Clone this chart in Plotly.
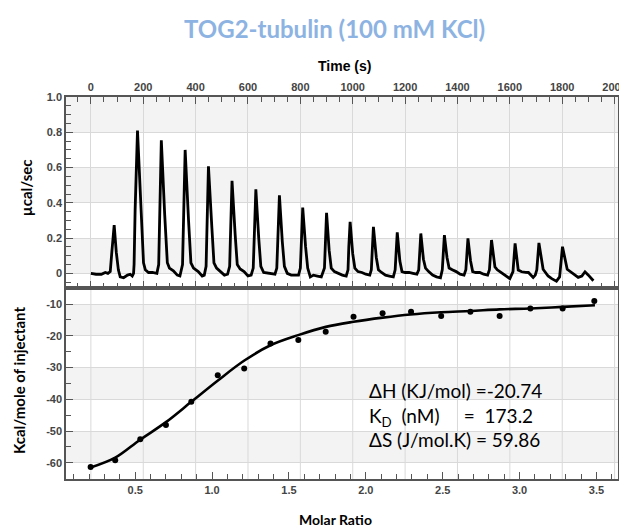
import plotly.graph_objects as go

# ---------------- data ----------------
# Raw thermogram (top panel): time (s) and power (µcal/sec)
time_s = [
    0, 20, 40, 55, 65,
    74, 80, 89, 97, 105, 112, 125, 140, 150, 158,
    163, 165, 169, 178, 191, 201, 208, 220, 235, 252,
    259, 263, 269, 282, 292, 300, 315, 330, 340,
    350, 354, 360, 373, 382, 392, 410, 425, 433,
    440, 444, 449, 462, 470, 480, 495, 510, 522,
    530, 534, 539, 551, 559, 570, 585, 600, 612,
    620, 625, 630, 641, 649, 660, 675, 690, 703,
    710, 715, 720, 731, 739, 750, 765, 780, 793,
    800, 804, 809, 820, 828, 838, 850, 865, 880,
    892, 895, 900, 910, 918, 930, 945, 960, 975,
    982, 985, 990, 1000, 1008, 1020, 1035, 1050, 1065,
    1071, 1074, 1079, 1090, 1098, 1110, 1125, 1140, 1155,
    1162, 1165, 1170, 1180, 1188, 1200, 1215, 1230, 1245,
    1252, 1255, 1260, 1270, 1278, 1290, 1305, 1320, 1335,
    1342, 1345, 1350, 1360, 1368, 1380, 1395, 1410, 1425,
    1432, 1435, 1440, 1450, 1458, 1470, 1485, 1500, 1515,
    1522, 1525, 1530, 1543, 1552, 1562, 1575, 1588, 1600,
    1612, 1615, 1620, 1632, 1645, 1660, 1671, 1689, 1697,
    1703, 1706, 1711, 1727, 1746, 1760, 1778, 1790,
    1794, 1801, 1819, 1836, 1850, 1861, 1875, 1887, 1900, 1919,
]
power_ucal = [
    0.0, -0.005, -0.005, 0.005, 0.0,
    0.01, 0.12, 0.273, 0.12, 0.02, -0.02, -0.025, -0.01, -0.005, -0.015,
    0.0, 0.05, 0.36, 0.81, 0.36, 0.06, 0.02, 0.005, 0.005, 0.0,
    0.05, 0.35, 0.755, 0.33, 0.06, 0.03, 0.015, -0.01, -0.015,
    0.05, 0.33, 0.70, 0.30, 0.06, 0.03, 0.01, -0.015, -0.01,
    0.04, 0.30, 0.607, 0.26, 0.06, 0.03, 0.01, -0.01, -0.005,
    0.04, 0.26, 0.525, 0.22, 0.05, 0.025, 0.01, -0.015, -0.01,
    0.03, 0.23, 0.476, 0.20, 0.04, 0.005, 0.0, -0.005, -0.005,
    0.03, 0.22, 0.443, 0.18, 0.04, 0.0, -0.01, -0.01, -0.01,
    0.03, 0.18, 0.373, 0.15, 0.03, -0.02, -0.01, -0.015, -0.02,
    0.03, 0.17, 0.343, 0.13, 0.03, 0.01, 0.0, -0.01, -0.015,
    0.02, 0.15, 0.292, 0.11, 0.03, 0.01, 0.005, -0.005, -0.01,
    0.02, 0.13, 0.264, 0.09, 0.02, 0.005, -0.01, -0.015, -0.02,
    0.02, 0.12, 0.232, 0.07, 0.01, 0.005, 0.005, 0.0, -0.005,
    0.02, 0.11, 0.226, 0.08, 0.03, 0.01, -0.01, -0.02, -0.025,
    0.02, 0.11, 0.217, 0.09, 0.03, 0.02, 0.01, -0.005, -0.01,
    0.02, 0.10, 0.198, 0.07, 0.01, 0.005, 0.005, -0.005, -0.01,
    0.02, 0.10, 0.189, 0.037, 0.02, 0.01, -0.005, -0.02, -0.03,
    0.01, 0.09, 0.170, 0.019, 0.009, 0.006, 0.005, -0.023, -0.01,
    0.02, 0.09, 0.173, 0.023, -0.015, -0.03, -0.044, -0.02,
    0.05, 0.151, 0.023, 0.003, -0.01, -0.023, -0.015, 0.009, -0.01, -0.042,
]

# Integrated heats (bottom panel)
molar_ratio = [0.21, 0.37, 0.533, 0.70, 0.865, 1.037, 1.209, 1.38, 1.561, 1.739,
               1.92, 2.109, 2.294, 2.49, 2.68, 2.87, 3.07, 3.28, 3.486]
heat_kcal = [-61.3, -59.2, -52.6, -48.1, -40.8, -32.4, -30.3, -22.4, -21.3, -18.7,
             -14.0, -12.9, -12.4, -13.8, -12.4, -13.8, -11.4, -11.4, -9.05]

# Fitted curve
fit_ratio = [0.21, 0.37, 0.53, 0.70, 0.865, 1.04, 1.21, 1.38, 1.56, 1.74,
             1.92, 2.11, 2.29, 2.49, 2.68, 2.87, 3.07, 3.28, 3.49]
fit_kcal = [-61.5, -58.4, -52.8, -47.2, -40.8, -34.0, -27.8, -23.0, -19.8, -17.2,
            -15.6, -14.3, -13.3, -12.6, -12.2, -11.7, -11.4, -10.9, -10.4]

# Tick labels
time_ticks = [0, 200, 400, 600, 800, 1000, 1200, 1400, 1600, 1800, 2000]
power_ticks = [0, 0.2, 0.4, 0.6, 0.8, 1.0]
power_ticktext = ["0", "0.2", "0.4", "0.6", "0.8", "1.0"]
ratio_ticks = [0.5, 1.0, 1.5, 2.0, 2.5, 3.0, 3.5]
ratio_ticktext = ["0.5", "1.0", "1.5", "2.0", "2.5", "3.0", "3.5"]
heat_ticks = [-60, -50, -40, -30, -20, -10]
heat_ticktext = ["-60", "-50", "-40", "-30", "-20", "-10"]

# shaded bands
power_bands = [(0.0, 0.2), (0.4, 0.6), (0.8, 1.0)]
heat_bands = [(-20, -10), (-40, -30), (-60, -50)]

title_text = "TOG2-tubulin (100 mM KCl)"
params_text = "ΔH (KJ/mol) =-20.74<br>K<sub>D</sub>  (nM)     =  173.2<br>ΔS (J/mol.K) = 59.86"

# ---------------- figure ----------------
LINE = "#555555"
GRID = "#d9d9d9"
BAND = "#f3f3f3"
TICKFONT = dict(family="Liberation Sans, Arial", size=11, color="#444444", weight="bold")
LBLFONT = "Lato, Calibri, sans-serif"

fig = go.Figure()
fig.add_trace(go.Scatter(x=time_s, y=power_ucal, mode="lines",
                         line=dict(color="black", width=2.8),
                         xaxis="x", yaxis="y", showlegend=False, hoverinfo="skip"))
fig.add_trace(go.Scatter(x=fit_ratio, y=fit_kcal, mode="lines",
                         line=dict(color="black", width=2.6, shape="spline"),
                         xaxis="x2", yaxis="y2", showlegend=False))
fig.add_trace(go.Scatter(x=molar_ratio, y=heat_kcal, mode="markers",
                         marker=dict(color="black", size=6),
                         xaxis="x2", yaxis="y2", showlegend=False))

shapes = []
for y0, y1 in power_bands:
    shapes.append(dict(type="rect", xref="x domain", yref="y", x0=0, x1=1, y0=y0, y1=y1,
                       fillcolor=BAND, line=dict(width=0), layer="below"))
for y0, y1 in heat_bands:
    shapes.append(dict(type="rect", xref="x2 domain", yref="y2", x0=0, x1=1, y0=y0, y1=y1,
                       fillcolor=BAND, line=dict(width=0), layer="below"))
for t in time_ticks:
    shapes.append(dict(type="line", xref="x", yref="y2 domain", x0=t, x1=t, y0=0, y1=1,
                       line=dict(color=GRID, width=1), layer="below"))
fig.update_layout(shapes=shapes)

axis_common = dict(showline=True, linecolor=LINE, linewidth=1.5, mirror=True,
                   ticks="inside", ticklen=7, tickwidth=1.3, tickcolor=LINE,
                   tickfont=TICKFONT, zeroline=False, automargin=False)

# the page adds an 8 px body margin, so the figure is 8 px smaller and margins are shifted
fig.update_layout(
    width=619, height=524, autosize=False,
    margin=dict(l=58, r=9, t=89, b=53, autoexpand=False),
    paper_bgcolor="white", plot_bgcolor="white",
    xaxis=dict(axis_common, domain=[0, 1], anchor="y", side="top", range=[-95, 2013],
               tickvals=time_ticks, showgrid=True, gridcolor=GRID, gridwidth=1,
               mirror="ticks",
               minor=dict(dtick=50, tick0=0, ticks="inside", ticklen=5, tickcolor=LINE,
                          tickwidth=1.3, showgrid=False)),
    yaxis=dict(axis_common, domain=[0.5, 1], anchor="x", range=[-0.083, 1.0],
               tickvals=power_ticks, ticktext=power_ticktext, showgrid=True,
               gridcolor=GRID, gridwidth=1,
               minor=dict(dtick=0.05, tick0=0, ticks="inside", ticklen=5, tickcolor=LINE,
                          tickwidth=1.3, showgrid=False)),
    xaxis2=dict(axis_common, domain=[0, 1], anchor="y2", range=[0.05, 3.64],
                tickvals=ratio_ticks, ticktext=ratio_ticktext, showgrid=False,
                minor=dict(dtick=0.1, tick0=0, ticks="inside", ticklen=5, tickcolor=LINE,
                           tickwidth=1.3, showgrid=False)),
    yaxis2=dict(axis_common, domain=[0, 0.5], anchor="x2", range=[-65.1, -4.96],
                tickvals=heat_ticks, ticktext=heat_ticktext, showgrid=True,
                gridcolor=GRID, gridwidth=1,
                minor=dict(dtick=5, tick0=0, ticks="inside", ticklen=5, tickcolor=LINE,
                           tickwidth=1.3, showgrid=False)),
)

ann = [
    dict(text=title_text, x=0.487, y=1.1806, xref="paper", yref="paper",
         xanchor="center", yanchor="middle", showarrow=False,
         font=dict(family=LBLFONT, size=24, color="#8db3e2", weight="bold")),
    dict(text="Time (s)", x=0.5054, y=1.081, xref="paper", yref="paper",
         xanchor="center", yanchor="middle", showarrow=False,
         font=dict(family="Liberation Sans, Arial", size=14, color="black", weight="bold")),
    dict(text="µcal/sec", x=-0.0725, y=0.764, xref="paper", yref="paper", textangle=-90,
         xanchor="center", yanchor="middle", showarrow=False,
         font=dict(family=LBLFONT, size=15, color="black", weight="bold")),
    dict(text="Kcal/mole of injectant", x=-0.0851, y=0.2565, xref="paper", yref="paper",
         textangle=-90, xanchor="center", yanchor="middle", showarrow=False,
         font=dict(family=LBLFONT, size=15, color="black", weight="bold")),
    dict(text="Molar Ratio", x=0.489, y=-0.107, xref="paper", yref="paper",
         xanchor="center", yanchor="middle", showarrow=False,
         font=dict(family=LBLFONT, size=14, color="black", weight="bold")),
    dict(text=params_text, x=0.5447, y=0.267, xref="paper", yref="paper",
         xanchor="left", yanchor="top", align="left", showarrow=False,
         font=dict(family=LBLFONT, size=19, color="black")),
]
fig.update_layout(annotations=ann)

fig.write_html("out.html")
